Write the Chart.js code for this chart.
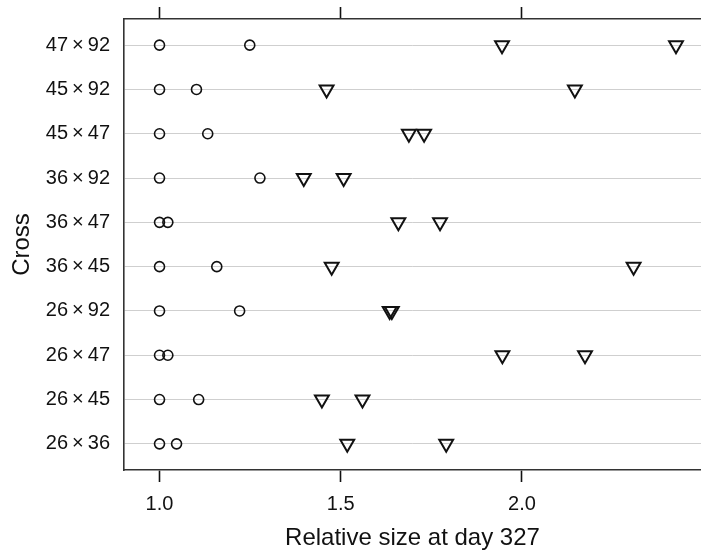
<!DOCTYPE html>
<html>
<head>
<meta charset="utf-8">
<script src="https://cdn.jsdelivr.net/npm/chart.js@4"></script>
<style>
  body { margin: 0; background: #fff; }
  canvas { display: block; }
</style>
</head>
<body>
<canvas id="chart" width="701" height="551"></canvas>
<script>
// crosses, top to bottom
var crosses = ['47\u2009×\u200992', '45\u2009×\u200992', '45\u2009×\u200947', '36\u2009×\u200992', '36\u2009×\u200947',
               '36\u2009×\u200945', '26\u2009×\u200992', '26\u2009×\u200947', '26\u2009×\u200945', '26\u2009×\u200936'];
var circle1 = [1.0, 1.0, 1.0, 1.0, 1.0, 1.0, 1.0, 1.0, 1.0, 1.0];
var circle2 = [1.249, 1.102, 1.133, 1.277, 1.023, 1.158, 1.221, 1.023, 1.108, 1.047];
var triangle1 = [1.945, 1.461, 1.688, 1.398, 1.659, 1.475, 1.635, 1.946, 1.448, 1.518];
var triangle2 = [2.425, 2.146, 1.730, 1.508, 1.774, 2.308, 1.641, 2.174, 1.560, 1.791];
var xTicks = [1.0, 1.5, 2.0];

const FONT = "'Liberation Sans', Arial, Helvetica, sans-serif";
const INK = '#111';

function toPoints(values) {
    return values.map((v, i) => ({ x: v, y: i }));
}

function circleSet(values) {
    return {
        data: toPoints(values),
        pointStyle: 'circle',
        pointRadius: 5,
        borderWidth: 1.6,
        borderColor: INK,
        backgroundColor: 'rgba(0,0,0,0)'
    };
}

function triangleSet(values) {
    return {
        data: toPoints(values),
        pointStyle: 'triangle',
        rotation: 180,
        pointRadius: 8,
        borderWidth: 2,
        borderColor: INK,
        backgroundColor: 'rgba(0,0,0,0)'
    };
}

const ctx = document.getElementById('chart').getContext('2d');
new Chart(ctx, {
    type: 'scatter',
    data: {
        datasets: [circleSet(circle1), circleSet(circle2), triangleSet(triangle1), triangleSet(triangle2)]
    },
    options: {
        responsive: false,
        animation: false,
        layout: { padding: 0, autoPadding: false },
        plugins: { legend: { display: false }, tooltip: { enabled: false } },
        scales: {
            x: {
                type: 'linear',
                position: 'bottom',
                min: 0.902,
                max: 2.494,
                afterBuildTicks: s => { s.ticks = xTicks.map(v => ({ value: v })); },
                afterFit: s => { s.height = 81; s.paddingLeft = 0; s.paddingRight = 0; },
                ticks: {
                    callback: v => v.toFixed(1),
                    color: INK,
                    padding: 10,
                    font: { family: FONT, size: 20 }
                },
                grid: { drawOnChartArea: false, tickLength: 12, tickColor: INK, tickWidth: 1.6 },
                border: { color: '#333', width: 1.6 },
                title: {
                    display: true,
                    text: 'Relative size at day 327',
                    color: INK,
                    padding: { top: 0, bottom: -2 },
                    font: { family: FONT, size: 24 }
                }
            },
            x2: {
                type: 'linear',
                position: 'top',
                min: 0.902,
                max: 2.494,
                afterBuildTicks: s => { s.ticks = xTicks.map(v => ({ value: v })); },
                afterFit: s => { s.height = 19; s.paddingLeft = 0; s.paddingRight = 0; },
                ticks: { display: false },
                grid: { drawOnChartArea: false, tickLength: 12, tickColor: INK, tickWidth: 1.6 },
                border: { color: '#333', width: 1.6 }
            },
            y: {
                type: 'linear',
                reverse: true,
                min: -0.59,
                max: 9.59,
                afterBuildTicks: s => { s.ticks = crosses.map((c, i) => ({ value: i })); },
                afterFit: s => { s.width = 124; s.paddingTop = 0; s.paddingBottom = 0; },
                ticks: {
                    callback: v => crosses[v],
                    color: INK,
                    padding: 14,
                    font: { family: FONT, size: 20 }
                },
                grid: { drawTicks: false, color: '#cfcfcf', lineWidth: 1 },
                border: { color: '#333', width: 1.6 },
                title: {
                    display: true,
                    text: 'Cross',
                    color: INK,
                    padding: { top: 8, bottom: 0 },
                    font: { family: FONT, size: 24 }
                }
            }
        }
    }
});
</script>
</body>
</html>
